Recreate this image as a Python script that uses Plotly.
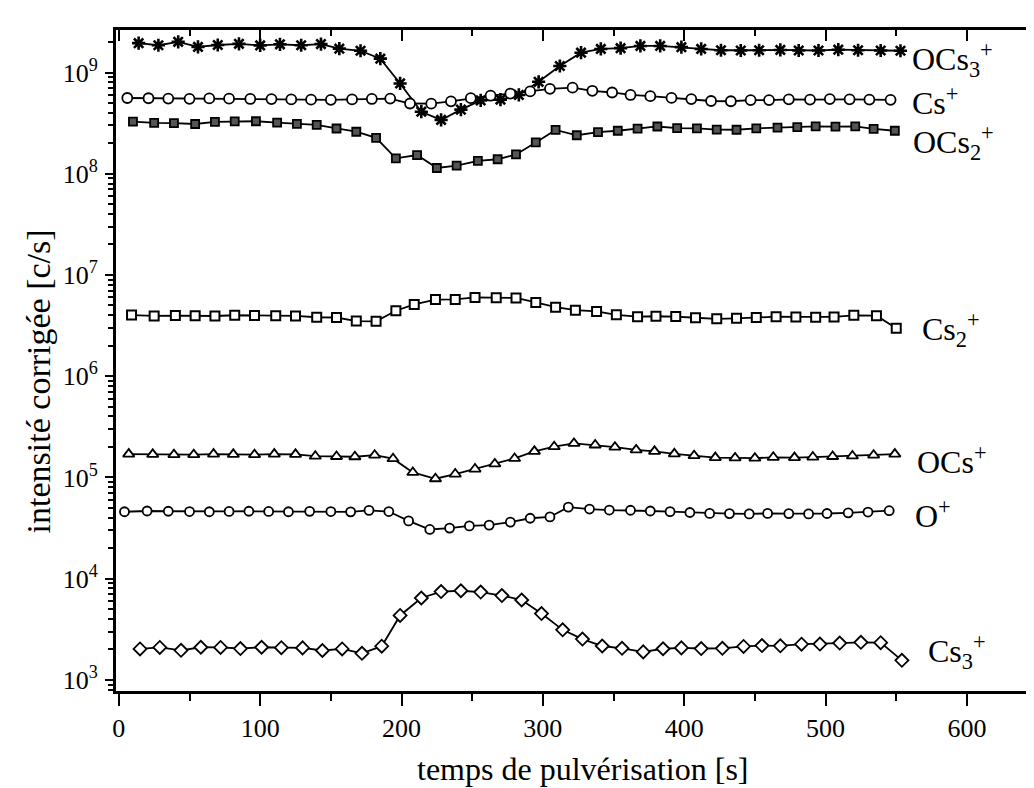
import plotly.graph_objects as go

# ---------------- data ----------------
t_ocs3 = [14, 28, 42, 56, 70, 85, 100, 114, 129, 143, 156, 171, 185, 199, 214, 228, 242, 256, 270, 283,
          297, 312, 327, 341, 355, 369, 383, 398, 412, 426, 440, 453, 468, 481, 495, 509, 523, 539, 553]
v_ocs3 = [1.95e9, 1.86e9, 2.01e9, 1.79e9, 1.87e9, 1.92e9, 1.85e9, 1.90e9, 1.86e9, 1.91e9, 1.72e9, 1.64e9,
          1.37e9, 7.8e8, 4.1e8, 3.4e8, 4.3e8, 5.3e8, 5.4e8, 6.0e8, 8.1e8, 1.16e9, 1.57e9, 1.71e9, 1.74e9,
          1.83e9, 1.83e9, 1.78e9, 1.71e9, 1.66e9, 1.65e9, 1.66e9, 1.67e9, 1.65e9, 1.65e9, 1.68e9, 1.66e9,
          1.65e9, 1.64e9]

t_cs = [6, 21, 35, 50, 64, 78, 93, 108, 122, 136, 150, 165, 179, 192, 206, 221, 235, 249, 263, 277,
        291, 305, 321, 335, 349, 362, 376, 391, 405, 419, 433, 447, 460, 474, 489, 503, 517, 531, 546]
v_cs = [5.6e8, 5.57e8, 5.53e8, 5.5e8, 5.55e8, 5.52e8, 5.48e8, 5.46e8, 5.42e8, 5.39e8, 5.37e8, 5.42e8,
        5.48e8, 5.53e8, 4.94e8, 4.92e8, 5.19e8, 5.58e8, 5.9e8, 6.2e8, 6.5e8, 6.9e8, 7.08e8, 6.6e8, 6.35e8,
        6.0e8, 5.84e8, 5.61e8, 5.46e8, 5.23e8, 5.2e8, 5.34e8, 5.34e8, 5.43e8, 5.4e8, 5.46e8, 5.43e8,
        5.4e8, 5.37e8]

t_ocs2 = [10, 25, 39, 54, 68, 82, 97, 112, 126, 140, 154, 168, 182, 196, 211, 225, 239, 254, 268, 281,
          295, 309, 324, 339, 353, 367, 381, 395, 409, 423, 437, 451, 466, 480, 493, 507, 521, 534, 549]
v_ocs2 = [3.27e8, 3.18e8, 3.16e8, 3.1e8, 3.26e8, 3.29e8, 3.3e8, 3.2e8, 3.11e8, 3.04e8, 2.8e8, 2.6e8,
          2.26e8, 1.42e8, 1.53e8, 1.14e8, 1.2e8, 1.34e8, 1.39e8, 1.55e8, 2.04e8, 2.71e8, 2.4e8, 2.58e8,
          2.66e8, 2.79e8, 2.93e8, 2.82e8, 2.81e8, 2.73e8, 2.72e8, 2.81e8, 2.85e8, 2.89e8, 2.94e8, 2.92e8,
          2.94e8, 2.78e8, 2.66e8]

t_cs2 = [9, 25, 40, 54, 68, 82, 96, 111, 125, 140, 154, 168, 182, 196, 209, 224, 238, 252, 267, 281,
         295, 309, 323, 338, 352, 367, 380, 394, 408, 423, 437, 451, 465, 479, 493, 506, 520, 536, 550]
v_cs2 = [4.02e6, 3.94e6, 3.97e6, 3.95e6, 3.93e6, 4.0e6, 3.98e6, 3.96e6, 3.94e6, 3.82e6, 3.8e6, 3.5e6,
         3.48e6, 4.43e6, 5.12e6, 5.71e6, 5.73e6, 6.0e6, 5.97e6, 5.93e6, 5.35e6, 4.81e6, 4.49e6, 4.36e6,
         4.04e6, 3.87e6, 3.91e6, 3.88e6, 3.78e6, 3.69e6, 3.73e6, 3.8e6, 3.87e6, 3.85e6, 3.83e6, 3.85e6,
         3.99e6, 3.96e6, 2.98e6]

t_ocs = [7, 24, 39, 53, 67, 81, 96, 110, 125, 139, 154, 167, 181, 194, 208, 224, 238, 252, 266, 280,
         294, 308, 322, 337, 351, 366, 379, 393, 407, 422, 436, 450, 463, 478, 491, 505, 519, 534, 549]
v_ocs = [1.70e5, 1.69e5, 1.68e5, 1.68e5, 1.70e5, 1.69e5, 1.68e5, 1.70e5, 1.69e5, 1.62e5, 1.61e5, 1.60e5,
         1.66e5, 1.53e5, 1.12e5, 9.7e4, 1.08e5, 1.21e5, 1.36e5, 1.54e5, 1.81e5, 2.01e5, 2.17e5, 2.09e5,
         1.99e5, 1.87e5, 1.81e5, 1.71e5, 1.64e5, 1.57e5, 1.56e5, 1.55e5, 1.58e5, 1.57e5, 1.59e5, 1.61e5,
         1.63e5, 1.66e5, 1.70e5]

t_o = [4, 20, 35, 50, 64, 78, 92, 106, 120, 135, 150, 164, 177, 191, 205, 220, 234, 248, 262, 277,
       291, 305, 318, 333, 347, 362, 376, 390, 404, 418, 432, 446, 459, 474, 488, 501, 516, 530, 545]
v_o = [4.58e4, 4.66e4, 4.63e4, 4.6e4, 4.58e4, 4.61e4, 4.63e4, 4.61e4, 4.58e4, 4.62e4, 4.6e4, 4.57e4,
       4.73e4, 4.6e4, 3.72e4, 3.06e4, 3.16e4, 3.32e4, 3.38e4, 3.62e4, 3.95e4, 4.07e4, 5.09e4, 4.87e4,
       4.76e4, 4.74e4, 4.66e4, 4.59e4, 4.5e4, 4.41e4, 4.39e4, 4.36e4, 4.41e4, 4.39e4, 4.36e4, 4.4e4,
       4.47e4, 4.55e4, 4.69e4]

t_cs3 = [15, 29, 44, 58, 72, 86, 101, 115, 130, 144, 158, 172, 186, 199, 214, 228, 242, 256, 271, 285,
         299, 314, 328, 342, 356, 371, 385, 398, 412, 427, 442, 455, 468, 483, 496, 510, 525, 539, 554]
v_cs3 = [2.02e3, 2.09e3, 1.96e3, 2.1e3, 2.09e3, 2.04e3, 2.1e3, 2.08e3, 2.07e3, 1.95e3, 2.02e3, 1.83e3,
         2.15e3, 4.33e3, 6.44e3, 7.45e3, 7.59e3, 7.37e3, 6.81e3, 6.15e3, 4.52e3, 3.12e3, 2.53e3, 2.16e3,
         2.05e3, 1.89e3, 2.03e3, 2.07e3, 2.04e3, 2.05e3, 2.14e3, 2.18e3, 2.17e3, 2.25e3, 2.26e3, 2.31e3,
         2.35e3, 2.33e3, 1.56e3]

x_tick_vals = [0, 100, 200, 300, 400, 500, 600]
x_tick_text = ["0", "100", "200", "300", "400", "500", "600"]
y_tick_vals = [1e3, 1e4, 1e5, 1e6, 1e7, 1e8, 1e9]
y_tick_text = ["10<sup>3</sup>", "10<sup>4</sup>", "10<sup>5</sup>", "10<sup>6</sup>",
               "10<sup>7</sup>", "10<sup>8</sup>", "10<sup>9</sup>"]

labels = ["OCs<sub>3</sub><sup>+</sup>", "Cs<sup>+</sup>", "OCs<sub>2</sub><sup>+</sup>",
          "Cs<sub>2</sub><sup>+</sup>", "OCs<sup>+</sup>", "O<sup>+</sup>", "Cs<sub>3</sub><sup>+</sup>"]

x_title = "temps de pulvérisation [s]"
y_title = "intensité corrigée [c/s]"

# ---------------- figure ----------------
FONT = "Liberation Serif"
fig = go.Figure()

series = [
    (t_ocs3, v_ocs3, "asterisk-open", 11, "black", 2.6),
    (t_cs, v_cs, "circle", 10, "white", 1.8),
    (t_ocs2, v_ocs2, "square", 8, "#555555", 1.8),
    (t_cs2, v_cs2, "square", 9, "white", 2.0),
    (t_ocs, v_ocs, "triangle-up", 10, "white", 1.8),
    (t_o, v_o, "circle", 9, "white", 1.8),
    (t_cs3, v_cs3, "diamond", 10, "white", 1.8),
]
for t, v, sym, size, fill, lw in series:
    fig.add_trace(go.Scatter(
        x=t, y=v, mode="lines+markers",
        line=dict(color="black", width=1.8),
        marker=dict(symbol=sym, size=size, color=fill, line=dict(color="black", width=lw)),
        showlegend=False, hoverinfo="skip"))

# invisible trace to activate the mirrored (top / right) axes
fig.add_trace(go.Scatter(x=t_cs[:1], y=v_cs[:1], xaxis="x2", yaxis="y2", mode="markers",
                         marker=dict(opacity=0), showlegend=False, hoverinfo="skip"))

xr = [-2, 651]
yr = [2.89, 9.42]
y_minor = [m * 10 ** e for e in range(2, 10) for m in range(2, 10)]
x_minor = [50, 150, 250, 350, 450, 550]

common_x = dict(range=xr, showgrid=False, zeroline=False, showline=True, linecolor="black",
                linewidth=3)
common_y = dict(type="log", range=yr, showgrid=False, zeroline=False, showline=True,
                linecolor="black", linewidth=3)

fig.update_layout(
    width=1034, height=788,
    margin=dict(l=108, r=3, t=22, b=105),
    paper_bgcolor="white", plot_bgcolor="white",
    font=dict(family=FONT, color="black"),
    xaxis=dict(**common_x, tickmode="array", tickvals=x_tick_vals, ticktext=x_tick_text,
               ticks="outside", ticklen=12, tickwidth=2, tickcolor="black",
               tickfont=dict(size=26, family=FONT, color="black"), ticklabelstandoff=0,
               minor=dict(tickmode="array", tickvals=x_minor, ticks="outside", ticklen=7,
                          tickwidth=2, tickcolor="black")),
    xaxis2=dict(**common_x, overlaying="x", side="top", anchor="y", tickmode="array",
                tickvals=x_tick_vals, showticklabels=False, ticks="inside", ticklen=11,
                tickwidth=2, tickcolor="black",
                minor=dict(tickmode="array", tickvals=x_minor, ticks="inside", ticklen=6,
                           tickwidth=2, tickcolor="black")),
    yaxis=dict(**common_y, tickmode="array", tickvals=y_tick_vals, ticktext=y_tick_text,
               ticks="outside", ticklen=8, tickwidth=2, tickcolor="black",
               tickfont=dict(size=26, family=FONT, color="black"), ticklabelstandoff=2,
               minor=dict(tickmode="array", tickvals=y_minor, ticks="outside", ticklen=5,
                          tickwidth=1.5, tickcolor="black")),
    yaxis2=dict(**common_y, overlaying="y", side="right", anchor="x", tickmode="array",
                tickvals=y_tick_vals, showticklabels=False, ticks="inside", ticklen=8,
                tickwidth=2, tickcolor="black",
                minor=dict(tickmode="array", tickvals=y_minor, ticks="inside", ticklen=5,
                           tickwidth=1.5, tickcolor="black")),
)

# series labels on the right
lab_pos = [(0.860, 0.955), (0.860, 0.893), (0.861, 0.830), (0.871, 0.547),
           (0.866, 0.350), (0.864, 0.268), (0.878, 0.060)]
for txt, (px, py) in zip(labels, lab_pos):
    fig.add_annotation(text=txt, x=px, y=py, xref="paper", yref="paper",
                       xanchor="left", yanchor="middle", showarrow=False,
                       font=dict(size=32, family=FONT, color="black"))

# axis titles
fig.add_annotation(text=x_title, x=0.505, y=-0.118, xref="paper", yref="paper",
                   xanchor="center", yanchor="middle", showarrow=False,
                   font=dict(size=32, family=FONT, color="black"))
fig.add_annotation(text=y_title, x=-0.083, y=0.469, xref="paper", yref="paper",
                   xanchor="center", yanchor="middle", showarrow=False, textangle=-90,
                   font=dict(size=34, family=FONT, color="black"))

fig.write_html("out.html")
